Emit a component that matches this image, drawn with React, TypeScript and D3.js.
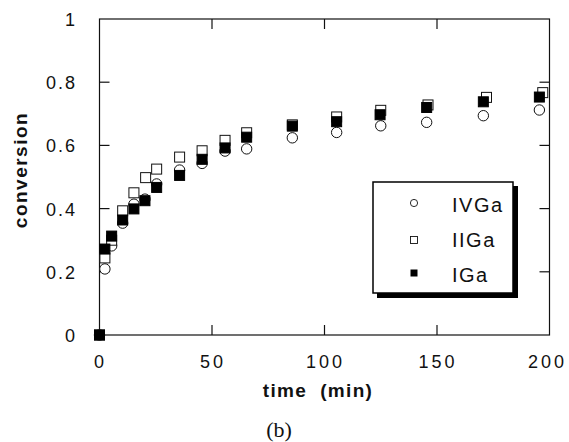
import React from "react";
import * as d3 from "d3";

const tIGa = [0, 2.4, 5.4, 10.3, 15.3, 20.2, 25.4, 35.6, 45.6, 55.8, 65.4, 85.7, 105.4, 124.7, 145.4, 170.6, 195.5];
const vIGa = [0, 0.272, 0.313, 0.364, 0.399, 0.425, 0.467, 0.505, 0.556, 0.592, 0.626, 0.661, 0.675, 0.697, 0.72, 0.738, 0.753];

const tIIGa = [0, 2.4, 5.4, 10.3, 15.3, 20.5, 25.4, 35.6, 45.6, 55.8, 65.4, 85.7, 105.4, 125, 146, 172, 197];
const vIIGa = [0, 0.244, 0.3, 0.393, 0.45, 0.498, 0.525, 0.563, 0.583, 0.616, 0.64, 0.665, 0.69, 0.711, 0.728, 0.752, 0.767];

const tIVGa = [0, 2.4, 5.4, 10.3, 15.3, 20.2, 25.4, 35.6, 45.6, 55.8, 65.4, 85.7, 105.4, 125, 145.4, 170.6, 195.5];
const vIVGa = [0, 0.209, 0.282, 0.354, 0.414, 0.43, 0.478, 0.522, 0.543, 0.582, 0.589, 0.624, 0.641, 0.662, 0.673, 0.694, 0.712];

const xTicks = [0, 50, 100, 150, 200];
const yTicks = [0, 0.2, 0.4, 0.6, 0.8, 1];
const legendLabels = ["IVGa", "IIGa", "IGa"];

export default function App() {
  const W = 569, H = 442;
  const x = d3.scaleLinear().domain([0, 200]).range([99.5, 549.5]);
  const y = d3.scaleLinear().domain([0, 1]).range([335, 19]);
  const [x0, x1] = x.range();
  const [y0, y1] = y.range();
  const tl = 10;
  const sq = 10;
  const stroke = "#111";

  const iv = tIVGa.map((t, i) => ({ t, v: vIVGa[i] }));
  const ii = tIIGa.map((t, i) => ({ t, v: vIIGa[i] }));
  const ig = tIGa.map((t, i) => ({ t, v: vIGa[i] }));

  const font = "Liberation Sans, Arial, Helvetica, sans-serif";

  return (
    <svg width={W} height={H} style={{ position: "absolute", left: 0, top: 0, background: "#fff" }}>
      <rect x={0} y={0} width={W} height={H} fill="#fff" />
      <rect x={x0} y={y1} width={x1 - x0} height={y0 - y1} fill="none" stroke={stroke} strokeWidth={1.2} />
      {xTicks.slice(1, -1).map((t) => (
        <g key={"xt" + t}>
          <line x1={x(t)} x2={x(t)} y1={y0} y2={y0 - tl} stroke={stroke} strokeWidth={1.2} />
          <line x1={x(t)} x2={x(t)} y1={y1} y2={y1 + tl} stroke={stroke} strokeWidth={1.2} />
        </g>
      ))}
      {yTicks.slice(1, -1).map((t) => (
        <g key={"yt" + t}>
          <line x1={x0} x2={x0 + tl} y1={y(t)} y2={y(t)} stroke={stroke} strokeWidth={1.2} />
          <line x1={x1} x2={x1 - tl} y1={y(t)} y2={y(t)} stroke={stroke} strokeWidth={1.2} />
        </g>
      ))}
      {xTicks.map((t) => (
        <text key={"xl" + t} x={x(t) - (t === 200 ? 3 : 0) + 1} y={368} textAnchor="middle" fontFamily={font} fontSize={18} letterSpacing={3} fill="#111">
          {t}
        </text>
      ))}
      {yTicks.map((t) => (
        <text key={"yl" + t} x={77} y={y(t) + 7} textAnchor="end" fontFamily={font} fontSize={18} letterSpacing={2} fill="#111">
          {String(t)}
        </text>
      ))}
      <text x={318} y={397} textAnchor="middle" fontFamily={font} fontSize={19} fontWeight="bold" letterSpacing={1.3} fill="#111" xmlSpace="preserve">
        {"time  (min)"}
      </text>
      <text
        transform={`translate(27,170) rotate(-90)`}
        textAnchor="middle"
        fontFamily={font}
        fontSize={19}
        fontWeight="bold"
        letterSpacing={1.5}
        fill="#111"
      >
        conversion
      </text>
      <text x={279} y={437} textAnchor="middle" fontFamily="Liberation Serif, Times New Roman, serif" fontSize={22} fill="#111">
        (b)
      </text>
      {iv.map((d, i) => (
        <circle key={"c" + i} cx={x(d.t)} cy={y(d.v)} r={5.2} fill="#fff" stroke={stroke} strokeWidth={1} />
      ))}
      {ii.map((d, i) => (
        <rect key={"o" + i} x={x(d.t) - sq / 2} y={y(d.v) - sq / 2} width={sq} height={sq} fill="#fff" stroke={stroke} strokeWidth={1} />
      ))}
      {ig.map((d, i) => (
        <rect key={"f" + i} x={x(d.t) - sq / 2} y={y(d.v) - sq / 2} width={sq} height={sq} fill="#000" stroke="#000" strokeWidth={1} />
      ))}
      <rect x={513} y={186} width={5} height={112} fill="#000" />
      <rect x={377} y={293} width={141} height={5} fill="#000" />
      <rect x={373} y={182} width={140} height={111} fill="#fff" stroke="#000" strokeWidth={1.5} />
      <circle cx={414} cy={203} r={3.6} fill="#fff" stroke={stroke} strokeWidth={0.9} />
      <rect x={410.5} y={236.5} width={7} height={7} fill="#fff" stroke={stroke} strokeWidth={0.9} />
      <rect x={410.5} y={269.5} width={7} height={7} fill="#000" />
      {legendLabels.map((l, i) => (
        <text key={l} x={452} y={212 + i * 35} fontFamily={font} fontSize={20} letterSpacing={1.5} fill="#111">
          {l}
        </text>
      ))}
    </svg>
  );
}
